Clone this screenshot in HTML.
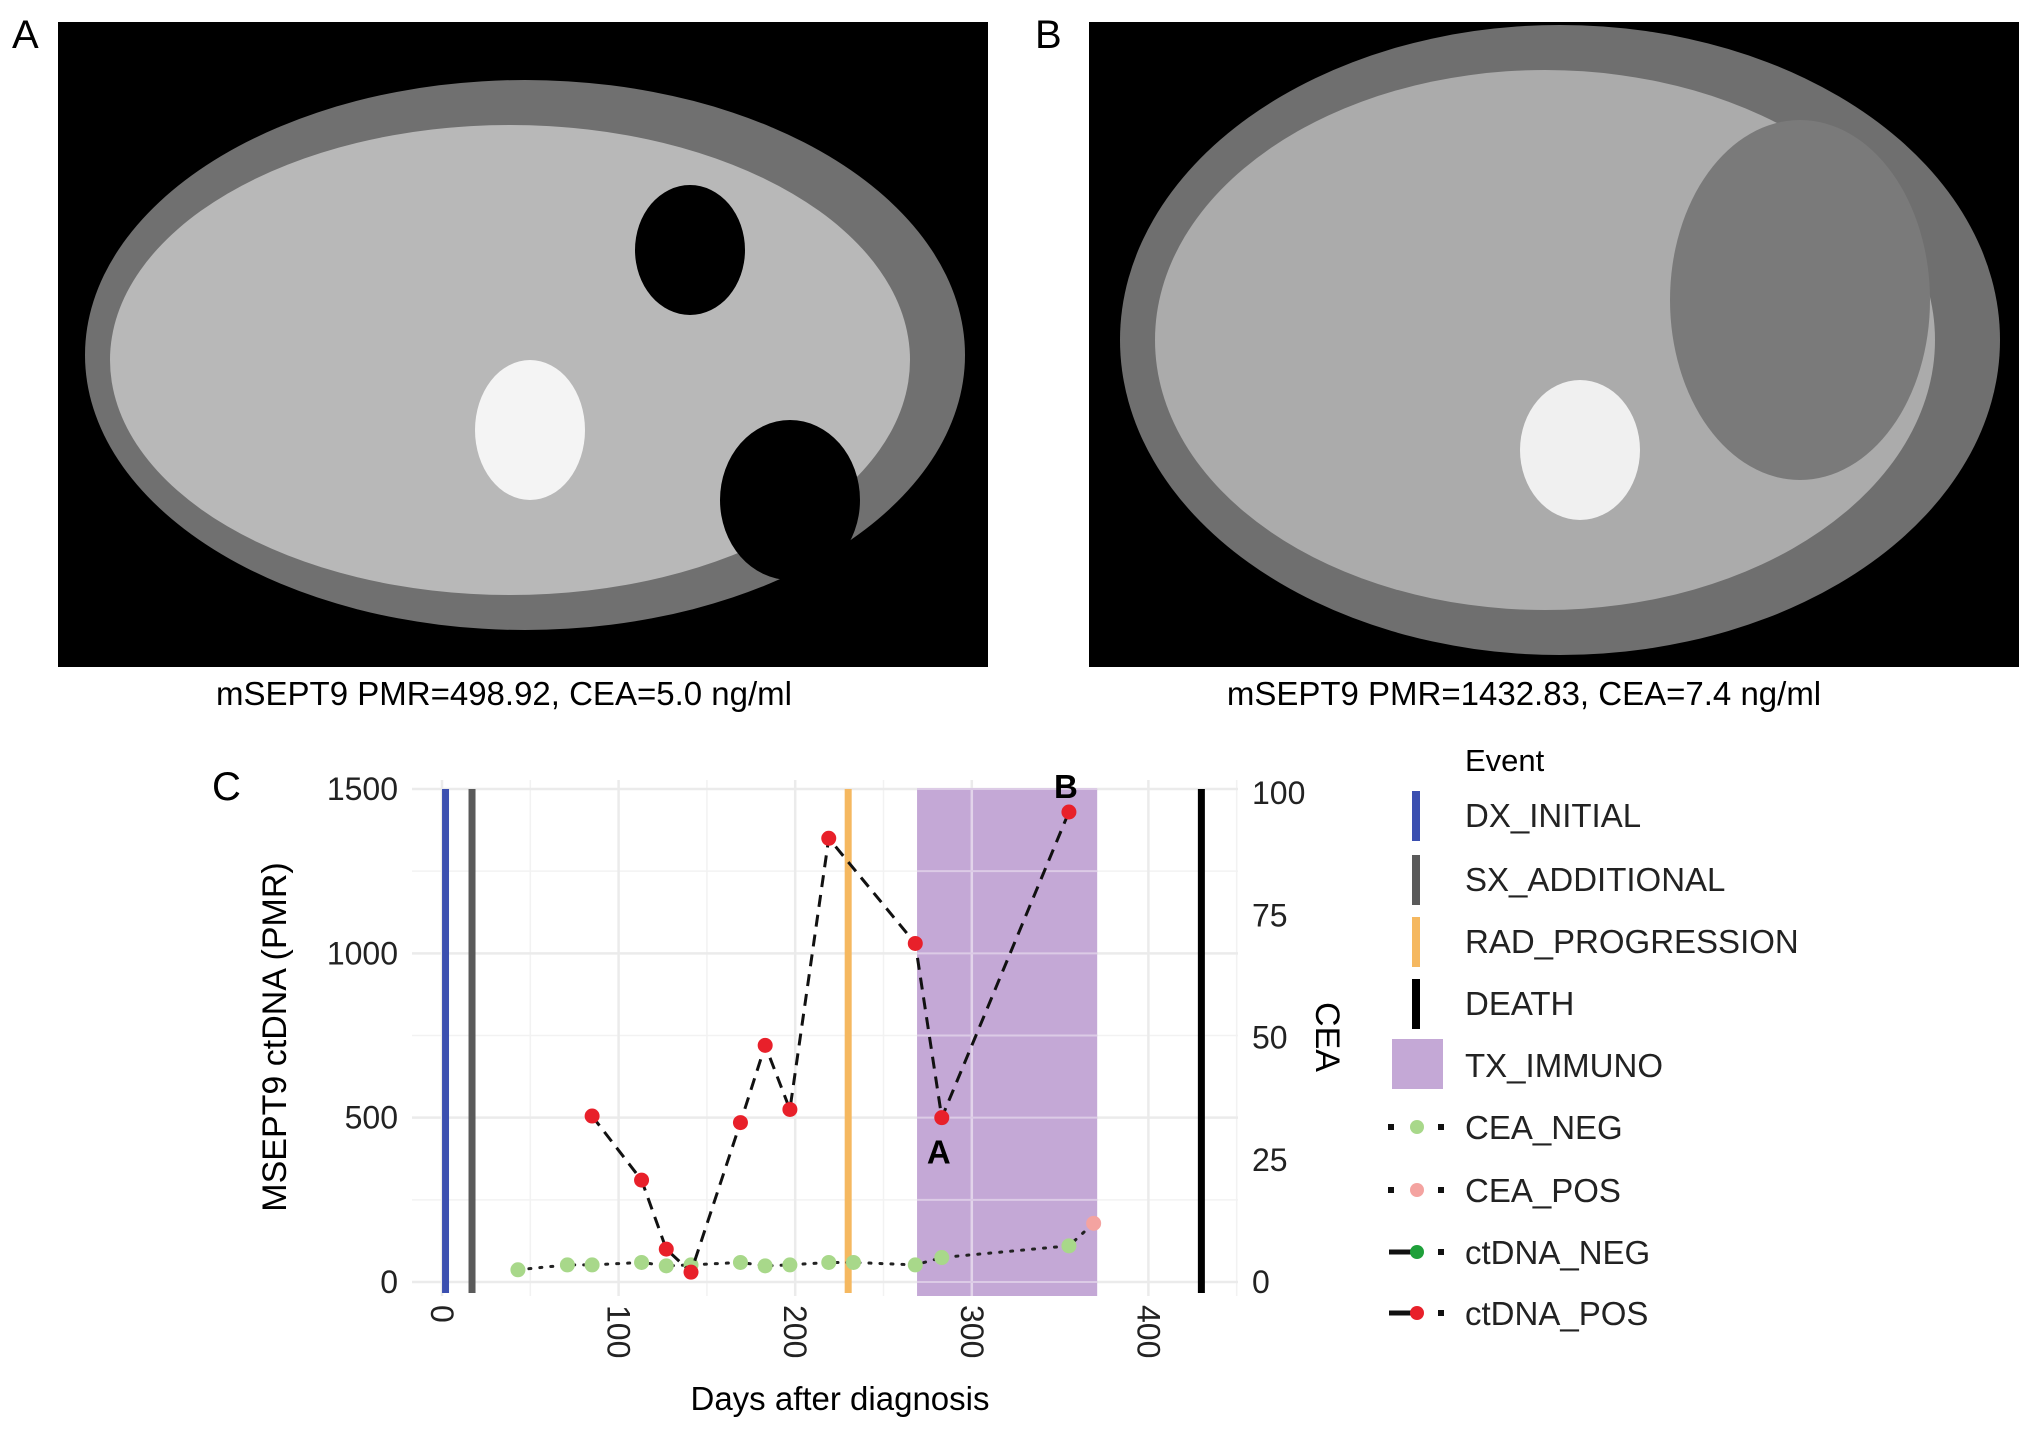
<!DOCTYPE html>
<html><head><meta charset="utf-8"><style>
html,body{margin:0;padding:0;background:#fff;}
svg{display:block;font-family:"Liberation Sans",Arial,sans-serif;}
</style></head><body>
<svg id="s" width="2032" height="1430" viewBox="0 0 2032 1430" xmlns="http://www.w3.org/2000/svg">
<g>
<text x="12" y="48" font-size="40">A</text>
<rect x="58" y="22" width="930" height="645" fill="#000"/>
<ellipse cx="525" cy="355" rx="440" ry="275" fill="#707070"/>
<ellipse cx="510" cy="360" rx="400" ry="235" fill="#b8b8b8"/>
<ellipse cx="690" cy="250" rx="55" ry="65" fill="#000"/>
<ellipse cx="790" cy="500" rx="70" ry="80" fill="#000"/>
<ellipse cx="530" cy="430" rx="55" ry="70" fill="#f4f4f4"/>
<text x="504" y="705" font-size="33" text-anchor="middle">mSEPT9 PMR=498.92, CEA=5.0 ng/ml</text>
</g>
<g>
<text x="1035" y="48" font-size="40">B</text>
<rect x="1089" y="22" width="930" height="645" fill="#000"/>
<ellipse cx="1560" cy="340" rx="440" ry="315" fill="#6f6f6f"/>
<ellipse cx="1545" cy="340" rx="390" ry="270" fill="#ababab"/>
<ellipse cx="1800" cy="300" rx="130" ry="180" fill="#7a7a7a"/>
<ellipse cx="1580" cy="450" rx="60" ry="70" fill="#f0f0f0"/>
<text x="1524" y="705" font-size="33" text-anchor="middle">mSEPT9 PMR=1432.83, CEA=7.4 ng/ml</text>
</g>
<text x="212" y="800" font-size="40">C</text>
<g id="chart"></g>
</svg>
<script>
const xTicks=[0,100,200,300,400];
const yTicks=[0,500,1000,1500];
const ceaTicks=[0,25,50,75,100];
const pmrDays=[85,113,127,141,169,183,197,219,268,283,355];
const pmrVals=[505,310,100,30,485,720,525,1350,1030,500,1430];
const ceaDays=[43,71,85,113,127,141,169,183,197,219,233,268,283,355,369];
const ceaVals=[2.5,3.5,3.5,4,3.3,3.5,4,3.3,3.5,4,4,3.5,5,7.4,12];
const ceaPos=[0,0,0,0,0,0,0,0,0,0,0,0,0,0,1];
const eventNames=["DX_INITIAL","SX_ADDITIONAL","RAD_PROGRESSION","DEATH"];
const eventDays=[2,17,230,430];
const eventColors=["#3b4fb0","#5a5a5a","#f5b860","#000000"];
const immunoRange=[269,371];
const annotDays=[283,355];
const annotLabels=["A","B"];

const NS="http://www.w3.org/2000/svg";
const g=document.getElementById('chart');
const X=d=>442+d*1.766;
const Y=v=>1282-v*(493/1500);
const YC=c=>1282-c*(489/100);
function el(t,a,p){const e=document.createElementNS(NS,t);for(const k in a)e.setAttribute(k,a[k]);(p||g).appendChild(e);return e;}
const L=412,R=1238,T=780,B=1296;
for(let v=250;v<1500;v+=500){const e=el('line',{x1:L,x2:R,y1:Y(v),y2:Y(v),stroke:'#f2f2f2','stroke-width':1.5});}
for(let d=-50;d<=450;d+=100){if(X(d)<L||X(d)>R)continue;const e=el('line',{x1:X(d),x2:X(d),y1:T,y2:B,stroke:'#f2f2f2','stroke-width':1.5});}
yTicks.forEach(v=>{const e=el('line',{x1:L,x2:R,y1:Y(v),y2:Y(v),stroke:'#ebebeb','stroke-width':2.5});});
xTicks.forEach(d=>{const e=el('line',{x1:X(d),x2:X(d),y1:T,y2:B,stroke:'#ebebeb','stroke-width':2.5});});
{const e=el('rect',{x:X(immunoRange[0]),y:Y(1500),width:X(immunoRange[1])-X(immunoRange[0]),height:B-Y(1500),fill:'#c4a8d6'});}
[300].forEach(d=>{const e=el('line',{x1:X(d),x2:X(d),y1:Y(1500),y2:B,stroke:'#e2d4ea','stroke-width':2.5});});
yTicks.concat([250,750,1250]).forEach(v=>{const e=el('line',{x1:X(immunoRange[0]),x2:X(immunoRange[1]),y1:Y(v),y2:Y(v),stroke:'#dccbe6','stroke-width':2});});
eventDays.forEach((d,i)=>{const e=el('line',{x1:X(d),x2:X(d),y1:Y(1500),y2:1293,stroke:eventColors[i],'stroke-width':7});});
{const e=el('polyline',{points:ceaDays.map((d,i)=>X(d)+','+YC(ceaVals[i])).join(' '),fill:'none',stroke:'#222','stroke-width':3,'stroke-dasharray':'2 9','stroke-linecap':'round'});}
ceaDays.forEach((d,i)=>{const e=el('circle',{cx:X(d),cy:YC(ceaVals[i]),r:7.5,fill:ceaPos[i]?'#f4a3a0':'#a8d88a'});});
{const e=el('polyline',{points:pmrDays.map((d,i)=>X(d)+','+Y(pmrVals[i])).join(' '),fill:'none',stroke:'#111','stroke-width':3,'stroke-dasharray':'12 8'});}
pmrDays.forEach((d,i)=>{const e=el('circle',{cx:X(d),cy:Y(pmrVals[i]),r:7.5,fill:'#e8202a'});});
annotDays.forEach((d,i)=>{const j=pmrDays.indexOf(d);const v=pmrVals[j];const y=i==0?Y(v)+46:Y(v)-14;const e=el('text',{x:X(d)-3,y:y,'font-size':33,'font-weight':'bold','text-anchor':'middle'});e.textContent=annotLabels[i];});
yTicks.forEach(v=>{const e=el('text',{x:398,y:Y(v)+11,'font-size':32,'text-anchor':'end',fill:'#222'});e.textContent=v;});
ceaTicks.forEach(c=>{const e=el('text',{x:1252,y:YC(c)+11,'font-size':32,fill:'#222'});e.textContent=c;});
xTicks.forEach(d=>{const e=el('text',{x:0,y:0,'font-size':32,fill:'#222',transform:'translate('+(X(d)-11)+',1305) rotate(90)'});e.textContent=d;});
{const e=el('text',{x:0,y:0,'font-size':34,'text-anchor':'middle',transform:'translate(286,1037) rotate(-90)'});e.textContent='MSEPT9 ctDNA (PMR)';}
{const e=el('text',{x:0,y:0,'font-size':34,'text-anchor':'middle',transform:'translate(1316,1037) rotate(90)'});e.textContent='CEA';}
{const e=el('text',{x:840,y:1410,'font-size':33,'text-anchor':'middle'});e.textContent='Days after diagnosis';}
const lg=el('g',{});
{const e=el('text',{x:1465,y:771,'font-size':31},lg);e.textContent='Event';}
const legY=[815,879,941,1003,1065,1127,1190,1252,1313];
const legLabels=eventNames.concat(["TX_IMMUNO","CEA_NEG","CEA_POS","ctDNA_NEG","ctDNA_POS"]);
legLabels.forEach((t,i)=>{const y=legY[i];
 if(i<4){const e=el('rect',{x:1412,y:y-24,width:8,height:50,fill:eventColors[i]},lg);}
 else if(i==4){const e=el('rect',{x:1392,y:y-26,width:51,height:50,fill:'#c4a8d6'},lg);}
 else{const solid=i>=7;
  if(solid){const e=el('line',{x1:1389,x2:1415,y1:y,y2:y,stroke:'#111','stroke-width':5},lg);}
  else{const e=el('rect',{x:1388,y:y-3,width:6,height:6,fill:'#111'},lg);}
  {const e=el('rect',{x:1438,y:y-3,width:6,height:6,fill:'#111'},lg);}
  const col=['#a8d88a','#f4a3a0','#1fa03a','#e8202a'][i-5];
  {const e=el('circle',{cx:1417,cy:y,r:7,fill:col},lg);}
 }
 const e=el('text',{x:1465,y:y+12,'font-size':33,fill:'#222'},lg);e.textContent=t;
});
</script>
</body></html>
